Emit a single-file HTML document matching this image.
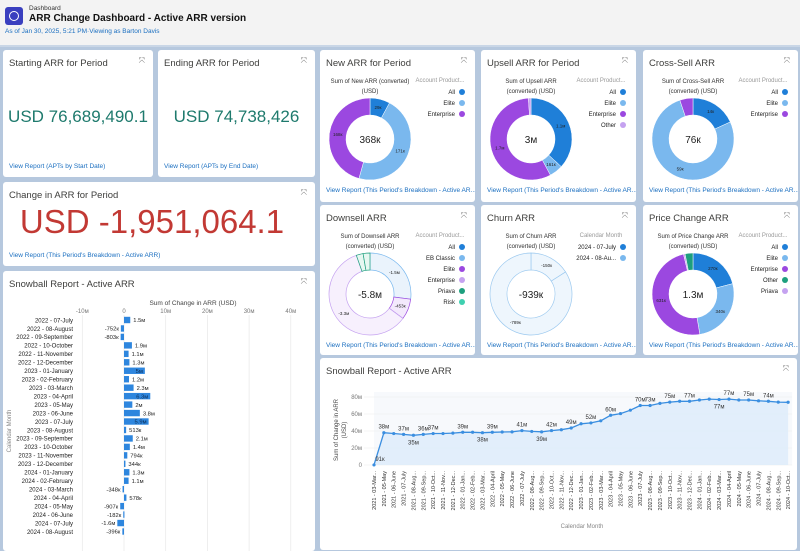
<!DOCTYPE html>
<html><head><meta charset="utf-8"><style>
body{margin:0;width:800px;height:548px;overflow:hidden;background:#b6c8de;font-family:"Liberation Sans",sans-serif;position:relative}
.hdr{position:absolute;left:0;top:0;width:800px;height:45px;background:#f3f3f3;border-bottom:2px solid #c9d6e6}
.card{position:absolute;background:#fff;border-radius:3px;overflow:hidden}
.t{position:absolute;left:6px;top:8px;font-size:9.5px;color:#3e3e3c}
.x{position:absolute;right:8px;top:6px;font-size:8px;color:#777}
.lnk{position:absolute;left:6px;font-size:6.5px;color:#1b6fc0;white-space:nowrap}
.big{position:absolute;left:0;right:0;text-align:center}
svg text{font-family:"Liberation Sans",sans-serif}
</style></head><body>
<div class="hdr">
<div style="position:absolute;left:5px;top:7px;width:18px;height:18px;background:#3a3fbf;border-radius:3px"><div style="position:absolute;left:4px;top:4px;width:8px;height:8px;border:1.5px solid #fff;border-radius:50%"></div></div>
<div style="position:absolute;left:29px;top:5px;font-size:6.5px;color:#333">Dashboard</div>
<div style="position:absolute;left:29px;top:13px;font-size:10px;font-weight:bold;color:#111">ARR Change Dashboard - Active ARR version</div>
<div style="position:absolute;left:5px;top:28px;font-size:6.5px;color:#1b6fc0">As of Jan 30, 2025, 5:21 PM·Viewing as Barton Davis</div>
</div>

<div class="card" style="left:3px;top:50px;width:150px;height:127px">
<div class="t">Starting ARR for Period</div><div class="x">⤧</div>
<div class="big" style="top:57px;font-size:17px;color:#1e7a6d">USD 76,689,490.1</div>
<div class="lnk" style="top:113px">View Report (APTs by Start Date)</div></div>
<div class="card" style="left:158px;top:50px;width:157px;height:127px">
<div class="t">Ending ARR for Period</div><div class="x">⤧</div>
<div class="big" style="top:57px;font-size:17px;color:#1e7a6d">USD 74,738,426</div>
<div class="lnk" style="top:113px">View Report (APTs by End Date)</div></div>
<div class="card" style="left:3px;top:182px;width:312px;height:84px">
<div class="t">Change in ARR for Period</div><div class="x">⤧</div>
<div class="big" style="top:21px;font-size:33px;color:#c23934;left:-14px">USD -1,951,064.1</div>
<div class="lnk" style="top:70px">View Report (This Period's Breakdown - Active ARR)</div></div>

<div class="card" style="left:3px;top:271px;width:312px;height:280px">
<div class="t">Snowball Report - Active ARR</div><div class="x">⤧</div>
<svg id="bar" width="312" height="280" style="position:absolute;left:0;top:0"></svg></div>

<div class="card" style="left:320px;top:358px;width:477px;height:192px">
<div class="t">Snowball Report - Active ARR</div><div class="x">⤧</div>
<svg id="line" width="477" height="192" style="position:absolute;left:0;top:0"></svg></div>

<div id="donuts"></div>

<script>
const NS="http://www.w3.org/2000/svg";
function mk(p,tag,a,txt){const e=document.createElementNS(NS,tag);for(const k in a)e.setAttribute(k,a[k]);if(txt!==undefined)e.textContent=txt;p.appendChild(e);return e;}

// ===== Bar chart data =====
const barCats=["2022 - 07-July","2022 - 08-August","2022 - 09-September","2022 - 10-October","2022 - 11-November","2022 - 12-December","2023 - 01-January","2023 - 02-February","2023 - 03-March","2023 - 04-April","2023 - 05-May","2023 - 06-June","2023 - 07-July","2023 - 08-August","2023 - 09-September","2023 - 10-October","2023 - 11-November","2023 - 12-December","2024 - 01-January","2024 - 02-February","2024 - 03-March","2024 - 04-April","2024 - 05-May","2024 - 06-June","2024 - 07-July","2024 - 08-August"];
const barVals=[1.5,-0.752,-0.803,1.9,1.1,1.3,5,1.2,2.3,6.3,2,3.8,5.9,0.513,2.1,1.4,0.794,0.344,1.3,1.1,-0.348,0.578,-0.907,-0.182,-1.6,-0.396];
const barLabels=["1.5м","-752к","-803к","1.9м","1.1м","1.3м","5м","1.2м","2.3м","6.3м","2м","3.8м","5.9м","513к","2.1м","1.4м","794к","344к","1.3м","1.1м","-348к","578к","-907к","-182к","-1.6м","-396к"];
const barTicks=[-10,0,10,20,30,40];
const barTickLabels=["-10м","0","10м","20м","30м","40м"];
(function(){
const s=document.getElementById('bar');
const X=v=>121+v*4.17, Y=i=>49+i*8.46;
mk(s,'text',{x:190,y:34,'font-size':6.5,fill:'#444','text-anchor':'middle'},'Sum of Change in ARR (USD)');
barTicks.forEach((t,i)=>{const l=mk(s,'line',{x1:X(t),x2:X(t),y1:44,y2:280,stroke:'#e8e8e8','stroke-width':0.7});

const tx=mk(s,'text',{x:X(t),y:42,'font-size':6,fill:'#777','text-anchor':'middle'},barTickLabels[i]);
});
const yt=mk(s,'text',{x:8,y:160,'font-size':6,fill:'#888','text-anchor':'middle',transform:'rotate(-90 8 160)'},'Calendar Month');

barCats.forEach((c,i)=>{const y=Y(i);
const tl=mk(s,'text',{x:70,y:y+2.3,'font-size':6,fill:'#222','text-anchor':'end'},c);

const v=barVals[i];const x0=Math.min(X(0),X(v)),w=Math.abs(X(v)-X(0));
const r=mk(s,'rect',{x:x0,y:y-3.2,width:Math.max(w,1.2),height:6.4,fill:'#2e86de'});

const inside=v>4.5;
const lb=mk(s,'text',{x:inside?X(v)-2:(v>=0?X(v)+3:X(v)-2),y:y+2.2,'font-size':5.8,fill:inside?'#0b2a50':'#222','text-anchor':(inside||v<0)?'end':'start'},barLabels[i]);
});
})();

// ===== Line chart data =====
const lineCats=["2021 - 03-Mar...","2021 - 05-May","2021 - 06-June","2021 - 07-July","2021 - 08-Aug...","2021 - 09-Sep...","2021 - 10-Oct...","2021 - 11-Nov...","2021 - 12-Dec...","2022 - 01-Jan...","2022 - 02-Feb...","2022 - 03-Mar...","2022 - 04-April","2022 - 05-May","2022 - 06-June","2022 - 07-July","2022 - 08-Aug...","2022 - 09-Sep...","2022 - 10-Oct...","2022 - 11-Nov...","2022 - 12-Dec...","2023 - 01-Jan...","2023 - 02-Feb...","2023 - 03-Mar...","2023 - 04-April","2023 - 05-May","2023 - 06-June","2023 - 07-July","2023 - 08-Aug...","2023 - 09-Sep...","2023 - 10-Oct...","2023 - 11-Nov...","2023 - 12-Dec...","2024 - 01-Jan...","2024 - 02-Feb...","2024 - 03-Mar...","2024 - 04-April","2024 - 05-May","2024 - 06-June","2024 - 07-July","2024 - 08-Aug...","2024 - 09-Sep...","2024 - 10-Oct..."];
const lineVals=[0.091,38,37,36,35,36,37,37,37.5,38.5,38.5,38,38.5,38.8,39,40.5,39.5,39,40.5,41.5,43.5,48.5,49.5,52,58.5,60.5,64.5,70,70,72.5,74,75,75,76.5,77.5,77,77.5,76.5,76.5,75.5,75,74,73.8];
const lineLabels=["91к","38м","","37м","35м","36м","37м","","","39м","","38м","39м","","","41м","","39м","42м","","49м","","52м","","60м","","","70м","73м","","75м","","77м","","","77м","77м","","75м","","74м","",""];
const lineLabelBelow=[0,0,0,0,1,0,0,0,0,0,0,1,0,0,0,0,0,1,0,0,0,0,0,0,0,0,0,0,0,0,0,0,0,0,0,1,0,0,0,0,0,0,0];
const lineTicks=[0,20,40,60,80];
const lineTickLabels=["0","20м","40м","60м","80м"];
(function(){
const s=document.getElementById('line');
const X=i=>54+i*9.86, Y=v=>107-v*0.85;
const at=mk(s,'text',{x:18,y:72,'font-size':6,fill:'#444','text-anchor':'middle',transform:'rotate(-90 18 72)'},'Sum of Change in ARR');

mk(s,'text',{x:26,y:72,'font-size':6,fill:'#444','text-anchor':'middle',transform:'rotate(-90 26 72)'},'(USD)');
mk(s,'rect',{x:54,y:Y(80)-5,width:X(42)-54+4,height:Y(0)-Y(80)+5,fill:'#f7f9fc'});
lineTicks.forEach((t,i)=>{mk(s,'line',{x1:44,x2:X(42)+4,y1:Y(t),y2:Y(t),stroke:'#ececec','stroke-width':0.6});
const tx=mk(s,'text',{x:42,y:Y(t)+2,'font-size':6,fill:'#777','text-anchor':'end'},lineTickLabels[i]);
});
let d='',pts=lineVals.map((v,i)=>[X(i),Y(v)]);
pts.forEach((p,i)=>d+=(i?'L':'M')+p[0].toFixed(1)+','+p[1].toFixed(1));
const ar=mk(s,'path',{d:d+'L'+X(42)+','+Y(0)+'L'+X(0)+','+Y(0)+'Z',fill:'#dcebfa',opacity:0.8});

const ln=mk(s,'path',{d:d,fill:'none',stroke:'#3a8ee0','stroke-width':1.3});

pts.forEach((p,i)=>{const c=mk(s,'circle',{cx:p[0],cy:p[1],r:1.6,fill:'#3a8ee0'});

if(lineLabels[i]){const b=lineLabelBelow[i];const tl=mk(s,'text',{x:p[0]+(i==0?6:0),y:b?p[1]+9:p[1]-4,'font-size':6,fill:'#333','text-anchor':'middle'},lineLabels[i]);
}
const xl=mk(s,'text',{x:p[0]+2,y:Y(0)+6,'font-size':5.5,fill:'#333','text-anchor':'end',transform:'rotate(-90 '+(p[0]+2)+' '+(Y(0)+6)+')'},lineCats[i]);
});
const xt=mk(s,'text',{x:262,y:170,'font-size':6,fill:'#888','text-anchor':'middle'},'Calendar Month');

})();

// ===== Donut data =====
const donutTitles=["New ARR for Period","Upsell ARR for Period","Cross-Sell ARR","Downsell ARR","Churn ARR","Price Change ARR"];
const donutSub1=["Sum of New ARR (converted)","Sum of Upsell ARR","Sum of Cross-Sell ARR","Sum of Downsell ARR","Sum of Churn ARR","Sum of Price Change ARR"];
const donutSub2=["(USD)","(converted) (USD)","(converted) (USD)","(converted) (USD)","(converted) (USD)","(converted) (USD)"];
const donutCenter=["368к","3м","76к","-5.8м","-939к","1.3м"];
const donutLegTitle=["Account Product...","Account Product...","Account Product...","Account Product...","Calendar Month","Account Product..."];
const donutLegends=[["All","Elite","Enterprise"],["All","Elite","Enterprise","Other"],["All","Elite","Enterprise"],["All","EB Classic","Elite","Enterprise","Priava","Risk"],["2024 - 07-July","2024 - 08-Au..."],["All","Elite","Enterprise","Other","Priava"]];
const donutLegColors=[["#1f7fd8","#7ab8ee","#9b48e0"],["#1f7fd8","#7ab8ee","#9b48e0","#c5a2f0"],["#1f7fd8","#7ab8ee","#9b48e0"],["#1f7fd8","#7ab8ee","#9b48e0","#c5a2f0","#1d9f7e","#3fd0b0"],["#1f7fd8","#7ab8ee"],["#1f7fd8","#7ab8ee","#9b48e0","#1d9f7e","#c5a2f0"]];
const donutVals=[[29,171,168],[1100,161,1700,30],[14,59,4],[1500,453,3300,150,150],[150,789],[270,340,631,8,40]];
const donutSliceColors=[["#1f7fd8","#7ab8ee","#9b48e0"],["#1f7fd8","#7ab8ee","#9b48e0","#c5a2f0"],["#1f7fd8","#7ab8ee","#9b48e0"],["#eaf3fc","#f3e9fc","#f7f0fd","#e6f7f1","#e6f7f1"],["#eef6fd","#eef6fd"],["#1f7fd8","#7ab8ee","#9b48e0","#c5a2f0","#1d9f7e"]];
const donutStroke=[null,null,null,["#7ab8ee","#9b48e0","#c5a2f0","#1d9f7e","#1d9f7e"],["#9cc9ef","#9cc9ef"],null];
const donutSliceLabels=[["29к","171к","168к"],["1.1м","161к","1.7м",""],["14к","59к",""],["-1.5м","-453к","-3.3м","",""],["-150к","-789к"],["270к","340к","631к","",""]];
const pos=[[320,50],[481,50],[643,50],[320,205],[481,205],[643,205]];
const cont=document.getElementById('donuts');
donutTitles.forEach((t,k)=>{
const c=document.createElement('div');c.className='card';


c.style.cssText='left:'+pos[k][0]+'px;top:'+pos[k][1]+'px;width:155px;height:'+(k<3?152:150)+'px';
c.innerHTML='<div class="t">'+t+'</div><div class="x">⤧</div><div class="lnk" style="top:137px">View Report (This Period\'s Breakdown - Active AR...</div>';
cont.appendChild(c);
const s=mk(c,'svg',{width:155,height:150,style:'position:absolute;left:0;top:0'});
mk(s,'text',{x:50,y:33,'font-size':6,fill:'#333','text-anchor':'middle'},donutSub1[k]);
mk(s,'text',{x:50,y:43,'font-size':6,fill:'#333','text-anchor':'middle'},donutSub2[k]);
mk(s,'text',{x:120,y:32,'font-size':6,fill:'#999','text-anchor':'middle'},donutLegTitle[k]);
donutLegends[k].forEach((l,i)=>{const ty=mk(s,'text',{x:135,y:44+i*11,'font-size':6,fill:'#222','text-anchor':'end'},l);

mk(s,'circle',{cx:142,cy:42+i*11,r:3,fill:donutLegColors[k][i]});});
const cx=50,cy=89,R=41,r=24;const vals=donutVals[k];const tot=vals.reduce((a,b)=>a+b,0);
let a0=-Math.PI/2;
vals.forEach((v,i)=>{const a1=a0+v/tot*2*Math.PI;const lg=(a1-a0)>Math.PI?1:0;
const P=(rr,a)=>(cx+rr*Math.cos(a)).toFixed(2)+','+(cy+rr*Math.sin(a)).toFixed(2);
const d='M'+P(R,a0)+'A'+R+','+R+' 0 '+lg+' 1 '+P(R,a1)+'L'+P(r,a1)+'A'+r+','+r+' 0 '+lg+' 0 '+P(r,a0)+'Z';
const st=donutStroke[k];
const p=mk(s,'path',{d:d,fill:donutSliceColors[k][i],stroke:st?st[i]:'#fff','stroke-width':st?0.7:0.5});

const am=(a0+a1)/2;if(donutSliceLabels[k][i])mk(s,'text',{x:cx+32.5*Math.cos(am),y:cy+32.5*Math.sin(am)+1.5,'font-size':4.5,fill:'#222','text-anchor':'middle'},donutSliceLabels[k][i]);
a0=a1;});
const ct=mk(s,'text',{x:cx,y:cy+4,'font-size':10,fill:'#222','text-anchor':'middle'},donutCenter[k]);

});
</script>
</body></html>
